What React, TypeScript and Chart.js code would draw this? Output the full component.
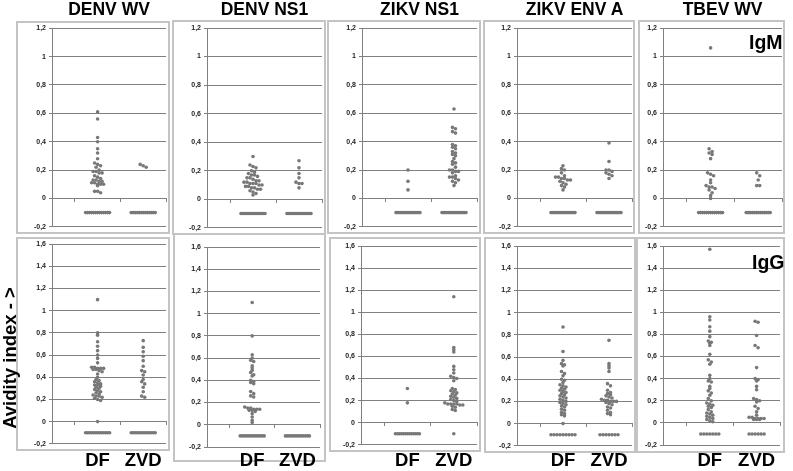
import React, { useEffect, useRef } from "react";
import { Chart, registerables } from "chart.js";

Chart.register(...registerables);

// ---------- data ----------
const panelTitles = ["DENV WV", "DENV NS1", "ZIKV NS1", "ZIKV ENV A", "TBEV WV"];
const groupLabels = ["DF", "ZVD"];
const rowLabels = ["IgM", "IgG"];
const yAxisTitle = "Avidity index - >";

const igmTicks = [-0.2, 0, 0.2, 0.4, 0.6, 0.8, 1, 1.2];
const iggTicks = [-0.2, 0, 0.2, 0.4, 0.6, 0.8, 1, 1.2, 1.4, 1.6];
const belowValue = -0.1; // samples below cut-off plotted at -0.1

// IgM row
const igmDenvWvDF = [0.61, 0.56, 0.43, 0.4, 0.35, 0.32, 0.28, 0.25, 0.24, 0.23, 0.22, 0.2, 0.19, 0.19, 0.18, 0.18, 0.16, 0.15, 0.14, 0.13, 0.13, 0.12, 0.12, 0.11, 0.11, 0.1, 0.1, 0.1, 0.09, 0.05, 0.05, 0.04];
const igmDenvWvZVD = [0.24, 0.23, 0.22];
const igmDenvNs1DF = [0.3, 0.24, 0.23, 0.22, 0.2, 0.19, 0.18, 0.17, 0.17, 0.16, 0.15, 0.15, 0.14, 0.13, 0.13, 0.12, 0.12, 0.11, 0.11, 0.11, 0.1, 0.1, 0.09, 0.09, 0.08, 0.08, 0.07, 0.07, 0.06, 0.05, 0.04, 0.03];
const igmDenvNs1ZVD = [0.27, 0.22, 0.18, 0.15, 0.12, 0.11, 0.11, 0.08];
const igmZikvNs1DF = [0.2, 0.12, 0.06];
const igmZikvNs1ZVD = [0.63, 0.5, 0.49, 0.47, 0.46, 0.38, 0.37, 0.36, 0.35, 0.33, 0.32, 0.31, 0.3, 0.28, 0.26, 0.25, 0.24, 0.22, 0.2, 0.2, 0.19, 0.19, 0.18, 0.16, 0.15, 0.15, 0.14, 0.13, 0.12, 0.11, 0.09];
const igmZikvEnvDF = [0.23, 0.21, 0.2, 0.18, 0.16, 0.15, 0.15, 0.14, 0.14, 0.13, 0.13, 0.12, 0.11, 0.1, 0.09, 0.08, 0.06];
const igmZikvEnvZVD = [0.39, 0.26, 0.2, 0.2, 0.19, 0.18, 0.17, 0.16, 0.14];
const igmTbevWvDF = [1.06, 0.35, 0.33, 0.32, 0.31, 0.28, 0.18, 0.17, 0.16, 0.13, 0.11, 0.09, 0.08, 0.08, 0.07, 0.06, 0.04, 0.02, 0.0];
const igmTbevWvZVD = [0.18, 0.16, 0.13, 0.09, 0.09];
const igmBelowDF = [13, 13, 13, 13, 13];
const igmBelowZVD = [13, 13, 13, 13, 13];

// IgG row
const iggDenvWvDF = [1.1, 0.8, 0.78, 0.72, 0.68, 0.64, 0.6, 0.57, 0.53, 0.49, 0.49, 0.48, 0.48, 0.48, 0.47, 0.47, 0.46, 0.45, 0.43, 0.4, 0.38, 0.37, 0.36, 0.35, 0.34, 0.33, 0.33, 0.32, 0.31, 0.3, 0.29, 0.28, 0.27, 0.26, 0.25, 0.24, 0.23, 0.23, 0.22, 0.21, 0.2, 0.19, 0.0];
const iggDenvWvZVD = [0.73, 0.67, 0.63, 0.59, 0.55, 0.5, 0.46, 0.45, 0.42, 0.38, 0.36, 0.34, 0.31, 0.27, 0.23, 0.22];
const iggDenvNs1DF = [1.1, 0.8, 0.63, 0.6, 0.58, 0.57, 0.53, 0.51, 0.49, 0.47, 0.45, 0.44, 0.4, 0.39, 0.38, 0.37, 0.3, 0.28, 0.26, 0.25, 0.16, 0.15, 0.15, 0.14, 0.14, 0.14, 0.13, 0.13, 0.12, 0.1, 0.07, 0.04, 0.02];
const iggDenvNs1ZVD: number[] = [];
const iggZikvNs1DF = [0.31, 0.18];
const iggZikvNs1ZVD = [1.14, 0.68, 0.66, 0.64, 0.51, 0.48, 0.45, 0.42, 0.41, 0.4, 0.38, 0.31, 0.3, 0.29, 0.28, 0.27, 0.26, 0.25, 0.24, 0.23, 0.22, 0.21, 0.2, 0.19, 0.18, 0.17, 0.17, 0.17, 0.17, 0.16, 0.16, 0.15, 0.14, 0.12, 0.11];
const iggZikvEnvDF = [0.87, 0.65, 0.57, 0.54, 0.53, 0.52, 0.47, 0.45, 0.43, 0.4, 0.39, 0.37, 0.35, 0.34, 0.33, 0.32, 0.31, 0.3, 0.29, 0.28, 0.27, 0.26, 0.25, 0.24, 0.23, 0.22, 0.21, 0.2, 0.19, 0.18, 0.17, 0.16, 0.15, 0.13, 0.12, 0.1, 0.09, 0.08, 0.07, 0.0];
const iggZikvEnvZVD = [0.75, 0.54, 0.52, 0.5, 0.47, 0.36, 0.34, 0.3, 0.28, 0.27, 0.26, 0.25, 0.24, 0.23, 0.22, 0.21, 0.21, 0.2, 0.2, 0.2, 0.19, 0.18, 0.17, 0.15, 0.14, 0.12, 0.1, 0.09, 0.08];
const iggTbevWvDF = [1.57, 0.96, 0.93, 0.87, 0.83, 0.78, 0.74, 0.73, 0.72, 0.7, 0.62, 0.57, 0.55, 0.53, 0.43, 0.4, 0.38, 0.37, 0.33, 0.31, 0.29, 0.27, 0.25, 0.22, 0.2, 0.18, 0.17, 0.16, 0.15, 0.14, 0.12, 0.1, 0.09, 0.08, 0.07, 0.06, 0.05, 0.04, 0.03, 0.02, 0.01];
const iggTbevWvZVD = [0.92, 0.91, 0.79, 0.7, 0.68, 0.5, 0.4, 0.39, 0.38, 0.33, 0.3, 0.22, 0.21, 0.2, 0.19, 0.15, 0.13, 0.1, 0.07, 0.05, 0.05, 0.04, 0.04, 0.04, 0.04, 0.03, 0.03, 0.03];
const iggBelowDF = [13, 13, 13, 9, 7];
const iggBelowZVD = [13, 13, 1, 7, 6];

// ---------- layout (positions / styles only) ----------
type Box = [number, number, number, number];
type Plot = [number, number, number, number];
const topBoxes: Box[] = [[16, 21, 154, 213], [172, 20, 154, 215], [327, 20, 154, 214], [483, 20, 152, 214], [638, 20, 147, 214]];
const topPlots: Plot[] = [[52, 166, 28, 229], [207, 322, 28, 229], [362, 477, 28, 229], [517, 632, 28, 229], [663, 782, 28, 229]];
const botBoxes: Box[] = [[16, 237, 154, 214], [173, 233, 153, 229], [329, 237, 152, 215], [484, 237, 152, 216], [636, 237, 149, 216]];
const botPlots: Plot[] = [[52, 166, 244, 445], [207, 320, 247, 447], [361, 477, 246, 445], [517, 632, 246, 446], [663, 780, 246, 445]];
const topBandPx = [2, 2, 2, 2, 2];
const botBandPx = [2, 2, 2, 3, 3];

const X_MAX = 2.5;
const CLUSTER_PX = 3;
const TOL = 0.02;
const POINT_COLOR = "#787878";
const GRID_COLOR = "#808080";

function swarm(values: number[], center: number, step: number, tol: number) {
  const sorted = [...values].sort((a, b) => b - a);
  const pts: { x: number; y: number }[] = [];
  let i = 0;
  while (i < sorted.length) {
    let j = i;
    while (j + 1 < sorted.length && sorted[i] - sorted[j + 1] < tol) j++;
    const k = j - i + 1;
    for (let m = 0; m < k; m++) pts.push({ x: center + (m - (k - 1) / 2) * step, y: sorted[i + m] });
    i = j + 1;
  }
  return pts;
}

type PanelCfg = {
  box: Box;
  plot: Plot;
  df: number[];
  zvd: number[];
  belowDF: number;
  belowZVD: number;
  ticks: number[];
  bandPx: number;
};

function Panel({ cfg }: { cfg: PanelCfg }) {
  const ref = useRef<HTMLCanvasElement>(null);
  useEffect(() => {
    const [bx, by, bw, bh] = cfg.box;
    const [pl, pr, pt, pb] = cfg.plot;
    const pxPerX = (pr - pl) / X_MAX;
    const step = CLUSTER_PX / pxPerX;
    const bandStep = cfg.bandPx / pxPerX;
    const points = [
      ...swarm(cfg.df, 1, step, TOL),
      ...swarm(cfg.zvd, 2, step, TOL),
      ...swarm(new Array(cfg.belowDF).fill(belowValue), 1, bandStep, 1),
      ...swarm(new Array(cfg.belowZVD).fill(belowValue), 2, bandStep, 1),
    ];
    const yMin = cfg.ticks[0];
    const yMax = cfg.ticks[cfg.ticks.length - 1];
    const chart = new Chart(ref.current as HTMLCanvasElement, {
      type: "scatter",
      data: {
        datasets: [
          {
            data: points,
            pointRadius: 1.8,
            pointBackgroundColor: POINT_COLOR,
            pointBorderWidth: 0,
            pointHoverRadius: 1.8,
          },
        ],
      },
      options: {
        responsive: false,
        animation: false,
        events: [],
        layout: { padding: { left: 0, top: pt - by, right: bx + bw - pr, bottom: by + bh - pb } },
        plugins: { legend: { display: false }, tooltip: { enabled: false } },
        scales: {
          x: {
            type: "linear",
            min: 0,
            max: X_MAX,
            position: { y: 0 } as any,
            afterBuildTicks: (s: any) => {
              s.ticks = [0.5, 1.5, 2.5].map((v) => ({ value: v }));
            },
            ticks: { display: false },
            grid: { drawOnChartArea: false, drawTicks: true, tickLength: 3, color: GRID_COLOR },
            border: { display: true, color: GRID_COLOR, width: 1 },
          },
          y: {
            type: "linear",
            min: yMin,
            max: yMax,
            afterBuildTicks: (s: any) => {
              s.ticks = cfg.ticks.map((v) => ({ value: v }));
            },
            afterFit: (s: any) => {
              s.width = pl - bx;
            },
            ticks: {
              callback: (v: any) => String(Math.round(Number(v) * 10) / 10).replace(".", ","),
              font: { family: "Liberation Sans", size: 7, weight: "bold" },
              color: "#222",
              padding: 3,
            },
            grid: { color: GRID_COLOR, lineWidth: 1, drawTicks: true, tickLength: 3 },
            border: { display: true, color: GRID_COLOR, width: 1 },
          },
        },
      },
    } as any);
    return () => chart.destroy();
  }, [cfg]);
  const [bx, by, bw, bh] = cfg.box;
  return (
    <>
      <canvas ref={ref} width={bw} height={bh} style={{ position: "absolute", left: bx, top: by, width: bw, height: bh }} />
      <div
        style={{
          position: "absolute",
          left: bx,
          top: by,
          width: bw,
          height: bh,
          boxSizing: "border-box",
          border: "2px solid #c4c4c4",
          pointerEvents: "none",
        }}
      />
    </>
  );
}

const topDF = [igmDenvWvDF, igmDenvNs1DF, igmZikvNs1DF, igmZikvEnvDF, igmTbevWvDF];
const topZVD = [igmDenvWvZVD, igmDenvNs1ZVD, igmZikvNs1ZVD, igmZikvEnvZVD, igmTbevWvZVD];
const botDF = [iggDenvWvDF, iggDenvNs1DF, iggZikvNs1DF, iggZikvEnvDF, iggTbevWvDF];
const botZVD = [iggDenvWvZVD, iggDenvNs1ZVD, iggZikvNs1ZVD, iggZikvEnvZVD, iggTbevWvZVD];

const panels: PanelCfg[] = [
  ...topBoxes.map((box, i) => ({
    box,
    plot: topPlots[i],
    df: topDF[i],
    zvd: topZVD[i],
    belowDF: igmBelowDF[i],
    belowZVD: igmBelowZVD[i],
    ticks: igmTicks,
    bandPx: topBandPx[i],
  })),
  ...botBoxes.map((box, i) => ({
    box,
    plot: botPlots[i],
    df: botDF[i],
    zvd: botZVD[i],
    belowDF: iggBelowDF[i],
    belowZVD: iggBelowZVD[i],
    ticks: iggTicks,
    bandPx: botBandPx[i],
  })),
];

const boldFont = "'Liberation Sans', Arial, sans-serif";

export default function App() {
  return (
    <div style={{ position: "absolute", left: 0, top: 0, width: 793, height: 471, background: "#fff", overflow: "hidden", fontFamily: boldFont }}>
      {panels.map((p, i) => (
        <Panel key={i} cfg={p} />
      ))}
      {panelTitles.map((t, i) => {
        const [pl, pr] = topPlots[i];
        const cx = (pl + pr) / 2;
        return (
          <div key={t} style={{ position: "absolute", left: cx - 70, top: -1, width: 140, textAlign: "center", fontWeight: "bold", fontSize: 17.5, lineHeight: "20px", color: "#000", whiteSpace: "nowrap" }}>
            {t}
          </div>
        );
      })}
      {botPlots.map((pp, i) =>
        groupLabels.map((g, gi) => {
          const [pl, pr] = pp;
          const cx = pl + ((gi + 1) / X_MAX) * (pr - pl);
          return (
            <div key={i + g} style={{ position: "absolute", left: cx - 30, top: 449, width: 60, textAlign: "center", fontWeight: "bold", fontSize: 18.5, lineHeight: "22px", color: "#000" }}>
              {g}
            </div>
          );
        })
      )}
      <div style={{ position: "absolute", left: 749, top: 31, fontWeight: "bold", fontSize: 19.5, lineHeight: "22px", color: "#000" }}>{rowLabels[0]}</div>
      <div style={{ position: "absolute", left: 752, top: 251, fontWeight: "bold", fontSize: 19.5, lineHeight: "22px", color: "#000" }}>{rowLabels[1]}</div>
      <div
        style={{
          position: "absolute",
          left: 10,
          top: 358,
          transform: "translate(-50%, -50%) rotate(-90deg)",
          fontWeight: "bold",
          fontSize: 18.5,
          whiteSpace: "nowrap",
          color: "#000",
        }}
      >
        {yAxisTitle}
      </div>
    </div>
  );
}
